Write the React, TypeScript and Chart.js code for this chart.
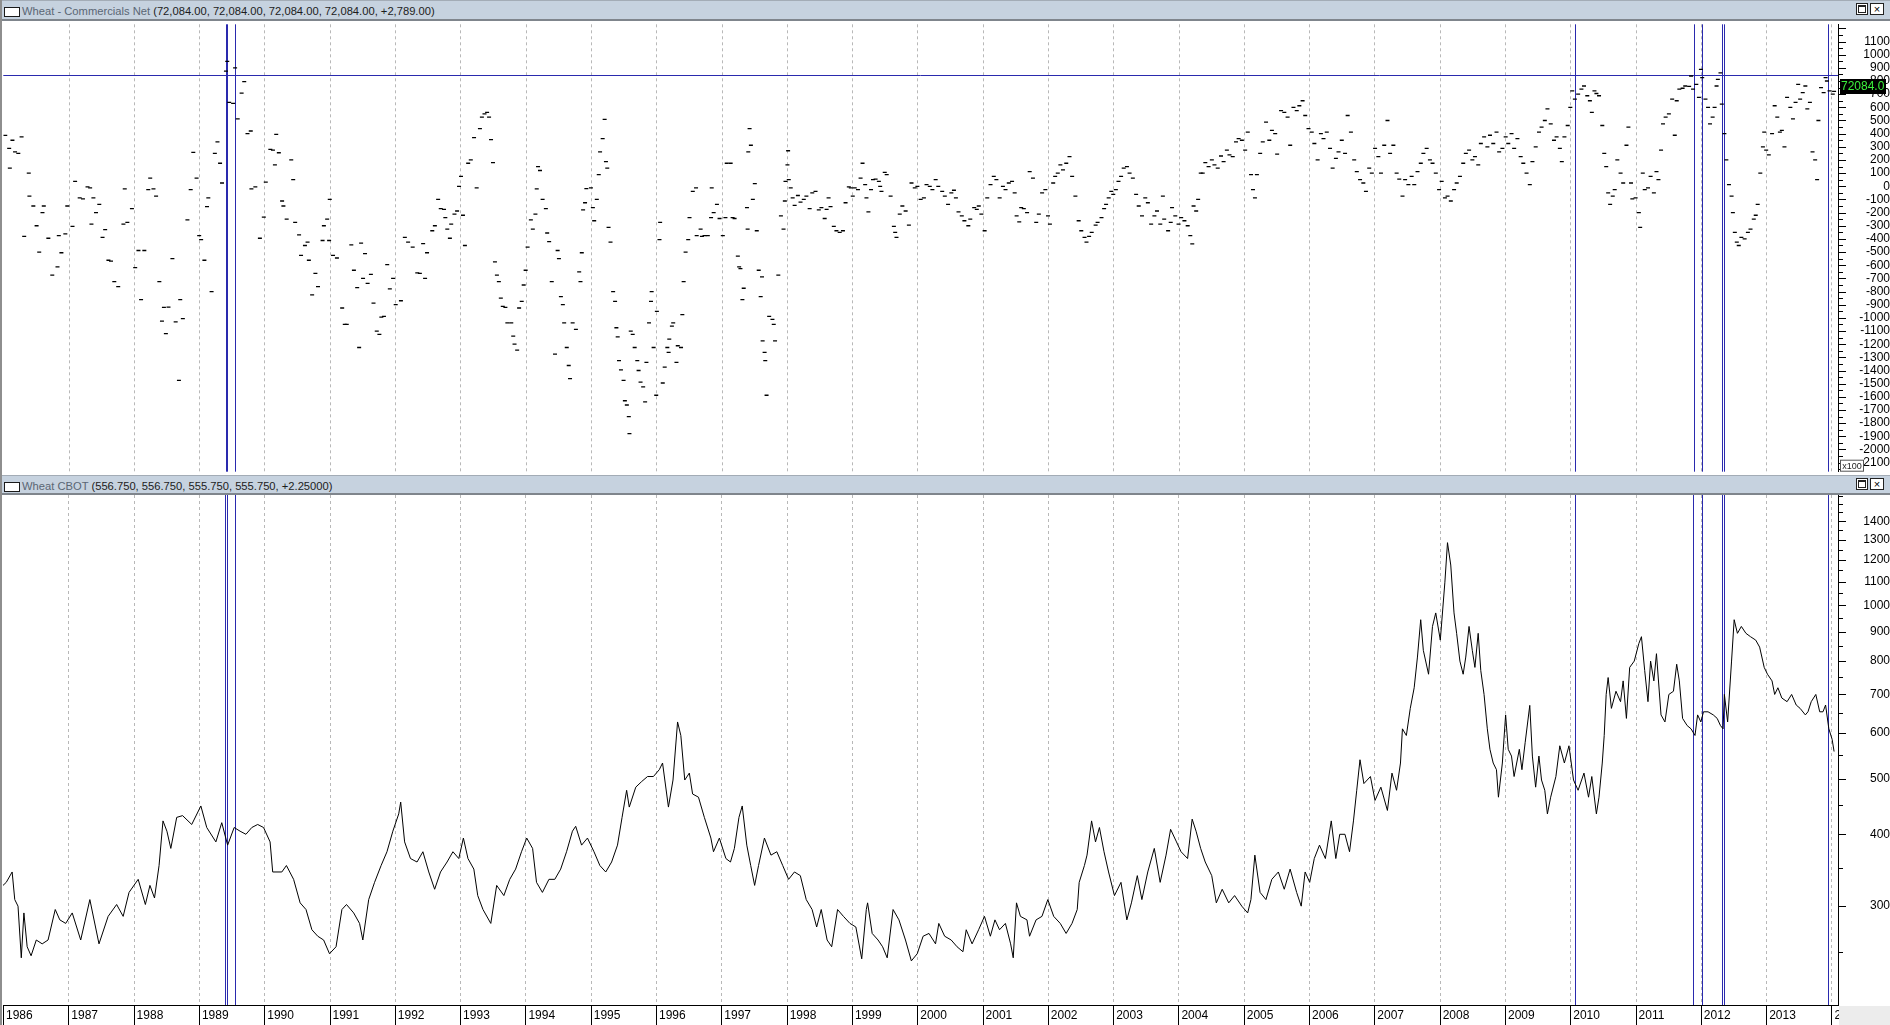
import React, { useEffect, useRef } from 'react';
import { Chart, registerables } from 'chart.js';

Chart.register(...registerables);

const FONT = '"Liberation Sans", Arial, sans-serif';

// ---------- Data ----------
const yearTicks = [1986, 1987, 1988, 1989, 1990, 1991, 1992, 1993, 1994, 1995, 1996, 1997, 1998, 1999, 2000, 2001, 2002, 2003, 2004, 2005, 2006, 2007, 2008, 2009, 2010, 2011, 2012, 2013, 2014];
const cotTicks = [1100, 1000, 900, 800, 700, 600, 500, 400, 300, 200, 100, 0, -100, -200, -300, -400, -500, -600, -700, -800, -900, -1000, -1100, -1200, -1300, -1400, -1500, -1600, -1700, -1800, -1900, -2000, -2100];
const priceTicks = [1400, 1300, 1200, 1100, 1000, 900, 800, 700, 600, 500, 400, 300];
const markerDates = [1989.404, 1989.426, 1989.553, 2010.07, 2011.887, 2012.016, 2012.33, 2012.358, 2013.94];
const levelLine = 842;
const lastCot = 72084;

// Commercials net (x100 contracts), weekly readings
const cotDates = [
1986.03,1986.09,1986.10,1986.14,1986.18,1986.23,1986.28,1986.32,1986.39,1986.40,1986.46,1986.51,1986.55,1986.60,1986.62,1986.69,1986.75,1986.83,1986.85,1986.89,1986.95,1986.98,
1987.06,1987.10,1987.17,1987.22,1987.29,1987.33,1987.35,1987.38,1987.42,1987.47,1987.52,1987.56,1987.61,1987.65,1987.70,1987.76,1987.84,1987.86,1987.90,1987.97,
1988.02,1988.07,1988.11,1988.16,1988.22,1988.25,1988.30,1988.34,1988.39,1988.43,1988.46,1988.49,1988.53,1988.59,1988.64,1988.69,1988.71,1988.75,1988.82,1988.87,1988.91,1988.96,
1989.00,1989.03,1989.08,1989.12,1989.14,1989.19,1989.24,1989.28,1989.32,1989.35,1989.41,1989.43,1989.46,1989.52,1989.55,1989.59,1989.65,1989.69,1989.74,1989.79,1989.80,1989.86,1989.93,1989.99,
1990.02,1990.09,1990.13,1990.16,1990.18,1990.22,1990.27,1990.29,1990.34,1990.41,1990.44,1990.47,1990.53,1990.56,1990.62,1990.66,1990.68,1990.73,1990.78,1990.82,1990.89,1990.91,1990.96,1990.99,
1991.00,1991.05,1991.11,1991.19,1991.23,1991.26,1991.33,1991.37,1991.42,1991.45,1991.48,1991.51,1991.54,1991.58,1991.63,1991.67,1991.72,1991.76,1991.79,1991.83,1991.88,1991.92,1991.97,
1992.01,1992.09,1992.15,1992.20,1992.27,1992.34,1992.38,1992.43,1992.46,1992.49,1992.57,1992.61,1992.66,1992.70,1992.75,1992.77,1992.80,1992.84,1992.86,1992.91,1992.95,1992.98,
1993.01,1993.04,1993.07,1993.12,1993.16,1993.21,1993.25,1993.30,1993.33,1993.37,1993.41,1993.44,1993.47,1993.50,1993.53,1993.56,1993.59,1993.62,1993.65,1993.69,1993.72,1993.78,1993.81,1993.83,1993.87,1993.90,1993.94,1993.97,
1994.00,1994.03,1994.08,1994.11,1994.15,1994.17,1994.19,1994.22,1994.26,1994.31,1994.33,1994.36,1994.40,1994.45,1994.49,1994.51,1994.54,1994.57,1994.59,1994.63,1994.66,1994.68,1994.72,1994.77,1994.82,1994.84,1994.86,1994.88,1994.91,1994.93,
1995.00,1995.03,1995.05,1995.09,1995.12,1995.14,1995.18,1995.21,1995.23,1995.25,1995.27,1995.30,1995.34,1995.37,1995.39,1995.41,1995.43,1995.46,1995.50,1995.52,1995.55,1995.58,1995.59,1995.61,1995.64,1995.67,1995.71,1995.73,1995.76,1995.80,1995.83,1995.85,1995.89,1995.92,1995.93,1995.96,
1996.00,1996.01,1996.05,1996.06,1996.10,1996.13,1996.17,1996.19,1996.20,1996.24,1996.26,1996.31,1996.33,1996.38,1996.40,1996.42,1996.45,1996.49,1996.51,1996.56,1996.61,1996.62,1996.68,1996.70,1996.74,1996.79,1996.84,1996.85,1996.88,1996.93,1996.97,
1997.02,1997.06,1997.08,1997.14,1997.17,1997.20,1997.25,1997.27,1997.29,1997.32,1997.34,1997.39,1997.40,1997.41,1997.43,1997.45,1997.48,1997.51,1997.54,1997.57,1997.60,1997.62,1997.63,1997.66,1997.67,1997.69,1997.73,1997.78,1997.80,1997.82,1997.87,1997.91,1997.95,1997.97,1997.98,
1998.01,1998.02,1998.03,1998.06,1998.09,1998.12,1998.17,1998.21,1998.26,1998.30,1998.35,1998.39,1998.44,1998.49,1998.53,1998.58,1998.61,1998.64,1998.67,1998.72,1998.76,1998.81,1998.86,1998.90,1998.95,1998.98,
1999.01,1999.04,1999.09,1999.13,1999.16,1999.20,1999.22,1999.25,1999.29,1999.32,1999.36,1999.41,1999.43,1999.45,1999.50,1999.53,1999.59,1999.64,1999.66,1999.68,1999.73,1999.77,1999.82,1999.87,1999.91,1999.96,
2000.00,2000.05,2000.10,2000.14,2000.19,2000.23,2000.28,2000.32,2000.38,2000.42,2000.47,2000.52,2000.56,2000.59,2000.63,2000.68,2000.72,2000.78,2000.81,2000.87,2000.91,2000.94,2000.98,
2001.03,2001.07,2001.12,2001.17,2001.21,2001.26,2001.31,2001.35,2001.40,2001.45,2001.49,2001.52,2001.56,2001.59,2001.63,2001.68,2001.72,2001.77,2001.82,2001.86,2001.91,2001.96,
2002.00,2002.03,2002.08,2002.11,2002.15,2002.19,2002.23,2002.28,2002.33,2002.37,2002.42,2002.47,2002.51,2002.56,2002.59,2002.63,2002.67,2002.73,2002.76,2002.82,2002.86,2002.89,2002.93,2002.97,
2003.00,2003.04,2003.08,2003.12,2003.16,2003.21,2003.25,2003.30,2003.35,2003.39,2003.44,2003.49,2003.53,2003.58,2003.63,2003.67,2003.72,2003.76,2003.78,2003.84,2003.88,2003.90,2003.95,
2004.00,2004.04,2004.09,2004.14,2004.18,2004.21,2004.23,2004.27,2004.30,2004.34,2004.37,2004.41,2004.46,2004.51,2004.55,2004.60,2004.65,2004.69,2004.74,2004.78,2004.83,2004.88,2004.92,2004.97,
2005.02,2005.06,2005.11,2005.14,2005.17,2005.20,2005.25,2005.29,2005.34,2005.39,2005.43,2005.48,2005.51,2005.57,2005.62,2005.67,2005.71,2005.76,2005.81,2005.85,2005.90,2005.94,2005.99,
2006.04,2006.08,2006.13,2006.18,2006.22,2006.27,2006.32,2006.36,2006.41,2006.45,2006.50,2006.55,2006.59,2006.64,2006.69,2006.73,2006.78,2006.83,2006.87,2006.92,2006.96,
2007.01,2007.06,2007.10,2007.15,2007.20,2007.24,2007.29,2007.34,2007.38,2007.43,2007.47,2007.52,2007.57,2007.61,2007.66,2007.71,2007.75,2007.80,2007.85,2007.89,2007.94,2007.99,
2008.03,2008.08,2008.12,2008.17,2008.22,2008.26,2008.31,2008.36,2008.40,2008.45,2008.50,2008.54,2008.59,2008.63,2008.68,2008.73,2008.77,2008.82,2008.87,2008.91,2008.96,
2009.01,2009.05,2009.10,2009.14,2009.19,2009.24,2009.28,2009.33,2009.38,2009.42,2009.47,2009.52,2009.56,2009.61,2009.65,2009.70,2009.75,2009.79,2009.84,2009.87,2009.91,2009.96,
2010.00,2010.03,2010.07,2010.12,2010.17,2010.21,2010.26,2010.30,2010.33,2010.37,2010.40,2010.44,2010.49,2010.52,2010.55,2010.58,2010.61,2010.65,2010.68,2010.72,2010.77,2010.81,2010.86,2010.89,2010.93,2010.95,
2011.00,2011.05,2011.07,2011.11,2011.14,2011.19,2011.23,2011.28,2011.32,2011.35,2011.39,2011.42,2011.46,2011.51,2011.56,2011.60,2011.63,2011.67,2011.72,2011.76,2011.82,2011.85,2011.88,2011.93,2011.97,
2012.00,2012.02,2012.07,2012.11,2012.14,2012.18,2012.21,2012.24,2012.26,2012.30,2012.32,2012.36,2012.39,2012.43,2012.47,2012.49,2012.52,2012.55,2012.58,2012.62,2012.67,2012.72,2012.76,2012.81,2012.84,2012.87,2012.91,2012.95,2012.97,
2013.00,2013.04,2013.09,2013.13,2013.17,2013.21,2013.24,2013.28,2013.32,2013.37,2013.41,2013.45,2013.49,2013.52,2013.56,2013.60,2013.63,2013.67,2013.71,2013.75,2013.78,2013.80,2013.84,2013.88,2013.91,2013.93,2013.97,
2014.02,2014.04
];
const cotNet = [
387,288,138,350,262,250,375,-380,100,-75,-150,-300,-500,-200,-150,-395,-675,-612,-375,-505,-362,-150,
-305,38,-88,-95,-5,-12,-288,-88,-200,-138,-388,-330,-562,-568,-725,-762,-288,-20,-275,-170,
-618,-488,-862,-488,-25,62,-20,-75,-725,-1025,-920,-1120,-918,-550,-1030,-1475,-862,-1005,-255,-25,258,62,
-375,-405,-562,-155,-88,-800,250,338,175,25,875,950,638,630,900,512,708,795,400,420,-20,-5,-395,-235,
32,280,275,162,395,255,-112,-150,-250,200,50,-275,-370,-525,-450,-425,-562,-825,-662,-762,-412,-300,-250,-412,
-100,-525,-545,-925,-1050,-1050,-445,-638,-770,-1225,-432,-700,-512,-738,-670,-888,-1100,-1125,-995,-988,-595,-780,-700,
-900,-870,-388,-425,-462,-658,-662,-435,-700,-505,-338,-300,-100,-170,-175,-238,-325,-395,-288,-212,-188,0,
75,-220,-450,175,200,370,-12,438,525,550,562,525,355,180,-575,-675,-725,-850,-912,-920,-1038,-1038,-1138,-1200,-1245,-925,-875,-750,
-638,-462,-255,-325,-212,-20,150,120,-100,-170,-355,-420,-725,-1275,-488,-550,-838,-900,-1038,-1225,-1362,-1462,-1038,-1088,-650,-725,-505,-180,-125,-18,
-12,-162,-262,-100,88,262,362,508,188,138,-312,-425,-800,-875,-1075,-1145,-1325,-1395,-1475,-1630,-1662,-1750,-1880,-1100,-1125,-1225,-1325,-1400,-1488,-1525,-1638,-1338,-1038,-875,-800,-1225,
-1588,-950,-405,-275,-1495,-1375,-1225,-1262,-1162,-1062,-1038,-1338,-1212,-1225,-975,-725,-500,-405,-238,-38,-12,-375,-325,-380,-375,-375,-238,-12,-200,-138,-245,
-375,-238,175,175,-238,-245,-530,-612,-625,-862,-775,-162,-325,262,438,312,-100,20,-338,-638,-838,-688,-1175,-1262,-1325,-1588,-988,-1012,-1050,-1175,-675,-225,-325,-112,38,
162,270,50,-12,-88,-145,-70,-120,-100,-75,-170,-50,-38,-180,-162,-245,-175,-88,-155,-305,-338,-350,-338,-125,-5,-12,
-75,-12,-25,62,175,12,-88,-195,-25,50,55,38,0,-38,105,88,-75,-305,-350,-388,-212,-150,-188,-295,25,-12,
0,-100,-88,12,0,-25,50,0,-38,-75,-138,-50,-30,-88,-195,-225,-262,-300,-250,-162,-175,-150,-212,
-338,-88,12,75,50,-88,0,-25,25,38,-50,-225,-270,-162,-170,-200,112,62,-275,-212,-50,-25,
-225,-288,25,75,100,162,125,175,225,75,-75,-262,-338,-388,-425,-380,-350,-295,-275,-238,-170,-138,-88,-38,
-62,-25,38,75,138,150,100,62,-62,-150,-225,-88,-125,-288,-225,-188,-288,-75,-250,-338,-275,-162,-225,
-288,-238,-262,-300,-375,-438,-150,-188,-100,100,100,180,150,200,162,138,230,188,275,238,225,338,362,350,
275,412,88,-25,-88,88,250,338,488,350,425,400,245,575,562,525,312,600,575,612,650,538,438,
412,325,200,400,362,412,288,138,212,262,350,250,538,412,200,112,50,25,-38,138,100,
288,225,100,312,500,250,312,100,55,-75,50,12,75,12,112,175,250,288,200,175,100,-25,
38,-88,-75,-112,-25,25,75,175,250,275,200,225,162,325,375,300,388,325,412,262,288,
375,325,400,288,362,225,175,100,12,188,300,412,450,500,588,475,350,375,288,188,375,462,
600,725,662,700,738,762,688,650,562,725,705,688,462,250,150,-50,-138,-75,-25,200,100,25,312,450,25,-95,
-88,-200,-312,100,-25,-12,75,-50,112,50,275,475,525,550,662,388,650,738,745,762,760,838,738,775,675,
888,825,662,600,475,525,600,762,812,862,625,400,200,12,-75,-200,-350,-425,-450,-388,-400,-350,-325,-250,-220,-138,100,300,412,
275,238,400,612,525,412,425,300,675,600,512,638,775,662,712,762,588,638,262,200,50,500,750,712,825,800,725,
700,721
];

// Wheat CBOT price (cents/bu)
const priceDates = [
1986.00,1986.05,1986.14,1986.18,1986.23,1986.28,1986.32,1986.37,1986.43,1986.51,1986.60,1986.69,1986.80,1986.87,1986.96,
1987.06,1987.19,1987.33,1987.47,1987.61,1987.74,1987.84,1987.93,
1988.07,1988.18,1988.25,1988.32,1988.39,1988.45,1988.51,1988.57,1988.66,1988.75,1988.89,
1989.03,1989.12,1989.26,1989.35,1989.44,1989.54,1989.63,1989.72,1989.81,1989.90,1989.99,
1990.09,1990.13,1990.27,1990.34,1990.45,1990.55,1990.64,1990.73,1990.82,1990.91,
1991.00,1991.10,1991.19,1991.26,1991.37,1991.46,1991.51,1991.60,1991.69,1991.79,1991.88,1991.97,
1992.06,1992.09,1992.15,1992.24,1992.34,1992.43,1992.52,1992.61,1992.70,1992.80,1992.89,1992.98,
1993.05,1993.12,1993.21,1993.27,1993.35,1993.47,1993.56,1993.67,1993.76,1993.85,1993.94,
1994.02,1994.11,1994.17,1994.26,1994.36,1994.45,1994.54,1994.63,1994.72,1994.77,1994.86,1994.95,
1995.05,1995.14,1995.23,1995.32,1995.41,1995.48,1995.55,1995.59,1995.69,1995.78,1995.87,1995.96,
1996.05,1996.10,1996.19,1996.26,1996.33,1996.38,1996.44,1996.51,1996.56,1996.65,1996.74,1996.84,1996.88,1996.97,
1997.07,1997.14,1997.20,1997.27,1997.32,1997.39,1997.45,1997.51,1997.57,1997.66,1997.76,1997.85,1997.94,
1998.03,1998.12,1998.21,1998.30,1998.39,1998.46,1998.53,1998.62,1998.69,1998.78,1998.87,1998.97,
1999.06,1999.15,1999.22,1999.24,1999.31,1999.40,1999.47,1999.54,1999.63,1999.72,1999.82,1999.91,
2000.00,2000.09,2000.18,2000.28,2000.33,2000.42,2000.52,2000.61,2000.70,2000.75,2000.84,2000.94,
2001.03,2001.12,2001.19,2001.26,2001.35,2001.43,2001.47,2001.52,2001.58,2001.68,2001.72,2001.82,2001.91,
2002.00,2002.09,2002.19,2002.28,2002.37,2002.45,2002.48,2002.56,2002.60,2002.67,2002.73,2002.79,2002.86,2002.93,
2003.02,2003.12,2003.21,2003.28,2003.37,2003.44,2003.53,2003.63,2003.72,2003.81,2003.88,2003.97,
2004.04,2004.14,2004.21,2004.27,2004.34,2004.41,2004.51,2004.58,2004.67,2004.77,2004.86,2004.97,
2005.06,2005.11,2005.17,2005.25,2005.34,2005.43,2005.53,2005.62,2005.71,2005.81,2005.88,2005.94,
2006.01,2006.08,2006.16,2006.25,2006.34,2006.41,2006.47,2006.55,2006.62,2006.68,2006.73,2006.78,2006.84,2006.94,
2007.01,2007.10,2007.20,2007.27,2007.34,2007.40,2007.43,2007.49,2007.55,2007.61,2007.66,2007.71,2007.75,2007.83,2007.89,2007.94,
2008.01,2008.08,2008.12,2008.17,2008.22,2008.26,2008.31,2008.36,2008.40,2008.45,2008.50,2008.54,2008.59,2008.63,2008.68,2008.73,2008.77,2008.82,2008.87,2008.90,2008.96,
2009.01,2009.05,2009.10,2009.14,2009.22,2009.26,2009.31,2009.38,2009.42,2009.47,2009.52,2009.56,2009.61,2009.65,2009.70,2009.78,2009.84,2009.91,2009.98,
2010.05,2010.12,2010.21,2010.28,2010.33,2010.40,2010.44,2010.49,2010.52,2010.55,2010.58,2010.63,2010.70,2010.77,2010.81,2010.86,2010.91,2010.98,
2011.05,2011.09,2011.14,2011.19,2011.23,2011.28,2011.32,2011.39,2011.45,2011.51,2011.58,2011.63,2011.67,2011.72,2011.79,2011.85,2011.91,2011.95,
2012.00,2012.04,2012.11,2012.19,2012.25,2012.30,2012.34,2012.36,2012.41,2012.47,2012.51,2012.56,2012.62,2012.69,2012.76,2012.84,2012.90,2012.97,
2013.02,2013.09,2013.13,2013.18,2013.24,2013.32,2013.39,2013.46,2013.52,2013.60,2013.64,2013.69,2013.76,2013.82,2013.87,2013.91,2013.96,
2014.01,2014.04
];
const priceClose = [
326,330,344,308,300,244,292,255,246,262,258,262,296,284,280,
292,262,308,258,288,302,288,317,
334,302,326,310,353,422,405,378,428,431,416,
448,411,388,419,383,411,405,400,411,416,411,
388,344,344,353,334,304,296,273,266,262,
248,255,296,302,292,280,262,308,330,353,373,405,
434,455,388,363,358,373,344,321,344,358,373,363,
394,363,348,313,296,280,326,313,334,348,373,
394,378,330,317,334,334,348,373,405,413,383,394,
373,353,344,358,383,428,477,446,483,494,504,504,
518,532,446,497,627,594,497,511,470,464,428,394,373,394,
363,358,378,428,448,383,353,326,353,394,368,373,353,
334,344,339,308,296,276,296,262,255,296,288,280,
276,243,296,304,269,262,255,244,296,284,262,241,
248,266,269,258,280,266,262,255,250,273,258,273,
288,266,284,273,280,258,244,304,288,284,266,284,288,
308,288,280,269,280,296,330,353,368,422,388,411,373,344,
313,330,284,304,339,308,344,378,330,368,408,388,
373,363,425,405,378,358,339,304,321,304,313,300,
292,308,368,317,308,334,344,321,348,317,300,344,
330,363,383,363,422,363,400,400,373,422,477,539,490,504,
458,483,440,511,477,532,610,594,662,719,813,944,835,759,919,970,
870,1097,1285,1175,970,894,800,759,813,919,835,780,894,770,700,610,562,532,518,464,532,
645,562,547,504,562,518,578,670,547,483,547,497,477,434,464,504,570,532,570,
497,477,511,464,504,434,464,532,594,700,749,662,709,680,739,636,780,800,
858,882,770,680,800,739,824,645,627,700,709,790,739,636,618,610,594,645,
627,653,653,645,636,618,610,700,627,800,944,894,919,894,882,870,846,780,
759,739,700,719,690,680,700,671,662,645,653,680,700,653,653,671,610,
585,557
];

// ---------- Styling helpers ----------
const BLUE = '#2a2aae';
const GRID = '#b8b8b8';

function drawYearGrid(chart: any) {
  const { ctx, chartArea: a } = chart;
  const xs = chart.scales.x;
  ctx.save();
  ctx.lineWidth = 1;
  ctx.strokeStyle = GRID;
  ctx.setLineDash([3, 3]);
  for (const yr of yearTicks) {
    const px = Math.round(xs.getPixelForValue(yr)) + 0.5;
    if (px <= a.left + 1 || px >= a.right) continue;
    ctx.beginPath();
    ctx.moveTo(px, a.top);
    ctx.lineTo(px, a.bottom);
    ctx.stroke();
  }
  ctx.restore();
}

function drawMarkers(chart: any) {
  const { ctx, chartArea: a } = chart;
  const xs = chart.scales.x;
  ctx.save();
  ctx.lineWidth = 1;
  ctx.strokeStyle = BLUE;
  for (const d of markerDates) {
    const px = Math.round(xs.getPixelForValue(d)) + 0.5;
    ctx.beginPath();
    ctx.moveTo(px, a.top);
    ctx.lineTo(px, a.bottom);
    ctx.stroke();
  }
  ctx.restore();
}

function drawAxisTicks(chart: any, step: number, labelled: number[]) {
  const { ctx } = chart;
  const ys = chart.scales.y;
  const x0 = ys.left;
  ctx.save();
  ctx.strokeStyle = '#000';
  ctx.lineWidth = 1;
  const start = Math.ceil(ys.min / step) * step;
  for (let v = start; v <= ys.max; v += step) {
    if (v <= 0 && ys.type === 'logarithmic') continue;
    const py = Math.round(ys.getPixelForValue(v)) + 0.5;
    const major = labelled.includes(v) || (ys.type !== 'logarithmic' && v % 100 === 0);
    const len = major ? 8 : 5;
    ctx.beginPath();
    ctx.moveTo(x0, py);
    ctx.lineTo(x0 + len, py);
    ctx.stroke();
  }
  ctx.restore();
}

const topDecor = {
  id: 'topDecor',
  beforeDatasetsDraw(chart: any) {
    drawYearGrid(chart);
    drawMarkers(chart);
    const { ctx, chartArea: a } = chart;
    const py = Math.round(chart.scales.y.getPixelForValue(levelLine)) + 0.5;
    ctx.save();
    ctx.strokeStyle = BLUE;
    ctx.lineWidth = 1;
    ctx.beginPath();
    ctx.moveTo(a.left, py);
    ctx.lineTo(a.right, py);
    ctx.stroke();
    ctx.restore();
  },
  afterDraw(chart: any) {
    drawAxisTicks(chart, 50, cotTicks);
    const { ctx, chartArea: a } = chart;
    const ys = chart.scales.y;
    const x0 = ys.left;
    const py = ys.getPixelForValue(lastCot / 100);
    ctx.save();
    ctx.fillStyle = '#000';
    ctx.fillRect(x0 + 2, Math.round(py - 12), 46, 15);
    ctx.fillStyle = '#3cf03c';
    ctx.font = '12px ' + FONT;
    ctx.textAlign = 'left';
    ctx.textBaseline = 'middle';
    ctx.fillText(lastCot.toFixed(1), x0 + 3, Math.round(py - 12) + 8);
    const by = a.bottom - 12;
    ctx.fillStyle = '#fff';
    ctx.fillRect(x0 + 2, by, 23, 11);
    ctx.strokeStyle = '#555';
    ctx.strokeRect(x0 + 2.5, by + 0.5, 23, 11);
    ctx.fillStyle = '#222';
    ctx.font = '9px ' + FONT;
    ctx.textAlign = 'center';
    ctx.fillText('x100', x0 + 14, by + 6.5);
    ctx.restore();
  },
};

const bottomDecor = {
  id: 'bottomDecor',
  beforeDatasetsDraw(chart: any) {
    drawYearGrid(chart);
    drawMarkers(chart);
  },
  afterDraw(chart: any) {
    drawAxisTicks(chart, 50, priceTicks);
    const { ctx, chartArea: a } = chart;
    const xs = chart.scales.x;
    ctx.save();
    ctx.strokeStyle = '#000';
    ctx.lineWidth = 1;
    for (const yr of yearTicks) {
      const px = Math.round(xs.getPixelForValue(yr)) + 0.5;
      ctx.beginPath();
      ctx.moveTo(px, a.bottom);
      ctx.lineTo(px, chart.height);
      ctx.stroke();
    }
    ctx.restore();
  },
};

function TitleBar({ top, height, name, values }: { top: number; height: number; name: string; values: string }) {
  return (
    <div style={{ position: 'absolute', left: 0, top, width: 1890, height, boxSizing: 'border-box', background: '#c6d2df', borderTop: '1px solid #a3acb6', borderBottom: '2px solid #7f858c', zIndex: 2 }}>
      <div style={{ position: 'absolute', left: 4, top: 6, width: 14, height: 8, border: '1px solid #1a1a1a', background: '#fff' }} />
      <div style={{ position: 'absolute', left: 22, top: 3, fontSize: 11.2, lineHeight: '14px', fontFamily: FONT, whiteSpace: 'nowrap' }}>
        <span style={{ color: '#5a6674' }}>{name} </span>
        <span style={{ color: '#1c1c1c' }}>{values}</span>
      </div>
      <div style={{ position: 'absolute', left: 1856, top: 2, width: 10, height: 10, border: '1px solid #222', background: '#fff' }}>
        <div style={{ position: 'absolute', left: 1, top: 1, width: 6, height: 5, border: '1px solid #222', borderTopWidth: 2 }} />
      </div>
      <div style={{ position: 'absolute', left: 1870, top: 2, width: 12, height: 10, border: '1px solid #222', background: '#fff', fontSize: 11, lineHeight: '10px', textAlign: 'center', fontFamily: FONT, color: '#000' }}>×</div>
    </div>
  );
}

export default function App() {
  const topRef = useRef<HTMLCanvasElement>(null);
  const botRef = useRef<HTMLCanvasElement>(null);

  useEffect(() => {
    Chart.defaults.font.family = FONT;
    Chart.defaults.font.size = 12;
    Chart.defaults.color = '#000';

    const cotPoints = cotDates.map((d, i) => ({ x: d, y: cotNet[i] }));
    const pricePoints = priceDates.map((d, i) => ({ x: d, y: priceClose[i] }));

    const top = new Chart(topRef.current as HTMLCanvasElement, {
      type: 'scatter',
      data: {
        datasets: [{
          data: cotPoints,
          pointStyle: 'line',
          pointRadius: 2,
          pointHoverRadius: 2,
          pointBorderWidth: 1.3,
          borderColor: '#000',
          backgroundColor: '#000',
          showLine: false,
        }],
      },
      options: {
        responsive: false,
        animation: false,
        devicePixelRatio: 1,
        events: [],
        layout: { padding: { left: 3, right: 0, top: 0, bottom: 1 } },
        plugins: { legend: { display: false }, tooltip: { enabled: false } },
        scales: {
          x: { type: 'linear', display: false, min: 1986, max: 2014.1 },
          y: {
            type: 'linear',
            position: 'right',
            min: -2169,
            max: 1231,
            afterBuildTicks: (s: any) => { s.ticks = cotTicks.map((v) => ({ value: v })); },
            afterFit: (s: any) => { s.width = 52; s.paddingTop = 0; s.paddingBottom = 0; },
            ticks: { autoSkip: false, crossAlign: 'far', padding: 15, color: '#000', font: { size: 12, family: FONT }, callback: (v: any) => String(v) },
            grid: { display: false, drawTicks: false },
            border: { display: true, color: '#000', width: 1 },
          },
        },
      },
      plugins: [topDecor],
    } as any);

    const bot = new Chart(botRef.current as HTMLCanvasElement, {
      type: 'line',
      data: {
        datasets: [{
          data: pricePoints,
          borderColor: '#000',
          borderWidth: 1,
          pointRadius: 0,
          pointHoverRadius: 0,
          tension: 0,
          fill: false,
        }],
      },
      options: {
        responsive: false,
        animation: false,
        devicePixelRatio: 1,
        events: [],
        layout: { padding: { left: 3, right: 0, top: 0, bottom: 0 } },
        plugins: { legend: { display: false }, tooltip: { enabled: false } },
        scales: {
          x: {
            type: 'linear',
            position: 'bottom',
            min: 1986,
            max: 2014.1,
            afterBuildTicks: (s: any) => { s.ticks = yearTicks.map((v) => ({ value: v })); },
            afterFit: (s: any) => { s.height = 20; s.paddingLeft = 0; s.paddingRight = 0; },
            ticks: { autoSkip: false, maxRotation: 0, minRotation: 0, align: 'start', labelOffset: 3, padding: 3, color: '#000', font: { size: 12, family: FONT }, callback: (v: any) => String(v) },
            grid: { display: false, drawTicks: false },
            border: { display: true, color: '#000', width: 1 },
          },
          y: {
            type: 'logarithmic',
            position: 'right',
            min: 202,
            max: 1555,
            afterBuildTicks: (s: any) => { s.ticks = priceTicks.map((v) => ({ value: v })); },
            afterFit: (s: any) => { s.width = 52; s.paddingTop = 0; s.paddingBottom = 0; },
            ticks: { autoSkip: false, crossAlign: 'far', padding: 19, color: '#000', font: { size: 12, family: FONT }, callback: (v: any) => String(v) },
            grid: { display: false, drawTicks: false },
            border: { display: true, color: '#000', width: 1 },
          },
        },
      },
      plugins: [bottomDecor],
    } as any);

    return () => { top.destroy(); bot.destroy(); };
  }, []);

  return (
    <div style={{ position: 'fixed', left: 0, top: 0, width: 1890, height: 1025, background: '#fff', overflow: 'hidden', fontFamily: FONT }}>
      <TitleBar top={0} height={21} name="Wheat - Commercials Net" values="(72,084.00, 72,084.00, 72,084.00, 72,084.00, +2,789.00)" />
      <canvas ref={topRef} width={1890} height={454} style={{ position: 'absolute', left: 0, top: 21, width: 1890, height: 454 }} />
      <TitleBar top={475} height={20} name="Wheat CBOT" values="(556.750, 556.750, 555.750, 555.750, +2.25000)" />
      <canvas ref={botRef} width={1890} height={530} style={{ position: 'absolute', left: 0, top: 495, width: 1890, height: 530 }} />
      <div style={{ position: 'absolute', left: 0, top: 0, width: 2, height: 1025, background: '#8e8e8e', zIndex: 3 }} />
      <div style={{ position: 'absolute', left: 1839, top: 1006, width: 51, height: 19, background: '#ececec', zIndex: 3 }} />
    </div>
  );
}
